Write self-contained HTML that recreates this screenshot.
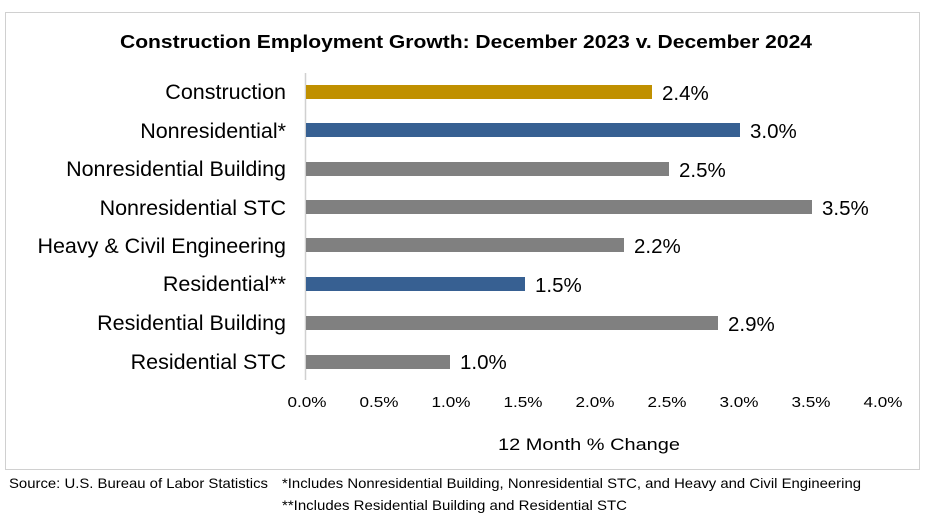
<!DOCTYPE html>
<html><head><meta charset="utf-8"><style>
html,body{margin:0;padding:0;background:#fff;}
svg{display:block;font-family:"Liberation Sans",Arial,sans-serif;}
</style></head><body>
<svg width="936" height="520" viewBox="0 0 936 520" xmlns="http://www.w3.org/2000/svg">
<rect x="5.5" y="12.5" width="914" height="457" fill="#fff" stroke="#d0d0d0" stroke-width="1"/>
<text x="466" y="48" text-anchor="middle" font-size="18" font-weight="bold" fill="#000" textLength="692" lengthAdjust="spacingAndGlyphs">Construction Employment Growth: December 2023 v. December 2024</text>
<line x1="305.5" y1="73" x2="305.5" y2="380" stroke="#d0d0d0" stroke-width="1.5"/>
<g font-size="21.5" fill="#000" text-anchor="end">
<text x="286" y="99">Construction</text>
<text x="286" y="138">Nonresidential*</text>
<text x="286" y="176">Nonresidential Building</text>
<text x="286" y="215">Nonresidential STC</text>
<text x="286" y="253">Heavy &amp; Civil Engineering</text>
<text x="286" y="291">Residential**</text>
<text x="286" y="330">Residential Building</text>
<text x="286" y="369">Residential STC</text>
</g>
<rect x="306" y="85" width="346" height="14" fill="#C09000"/>
<rect x="306" y="123" width="434" height="14" fill="#376092"/>
<rect x="306" y="162" width="363" height="14" fill="#808080"/>
<rect x="306" y="200" width="506" height="14" fill="#808080"/>
<rect x="306" y="238" width="318" height="14" fill="#808080"/>
<rect x="306" y="277" width="219" height="14" fill="#376092"/>
<rect x="306" y="316" width="412" height="14" fill="#808080"/>
<rect x="306" y="355" width="144" height="14" fill="#808080"/>
<g font-size="20.5" fill="#000">
<text x="662" y="100">2.4%</text>
<text x="750" y="138">3.0%</text>
<text x="679" y="177">2.5%</text>
<text x="822" y="215">3.5%</text>
<text x="634" y="253">2.2%</text>
<text x="535" y="292">1.5%</text>
<text x="728" y="331">2.9%</text>
<text x="460" y="369">1.0%</text>
</g>
<g font-size="15" fill="#000" text-anchor="middle">
<text x="307" y="407" textLength="39" lengthAdjust="spacingAndGlyphs">0.0%</text>
<text x="379" y="407" textLength="39" lengthAdjust="spacingAndGlyphs">0.5%</text>
<text x="451" y="407" textLength="39" lengthAdjust="spacingAndGlyphs">1.0%</text>
<text x="523" y="407" textLength="39" lengthAdjust="spacingAndGlyphs">1.5%</text>
<text x="595" y="407" textLength="39" lengthAdjust="spacingAndGlyphs">2.0%</text>
<text x="667" y="407" textLength="39" lengthAdjust="spacingAndGlyphs">2.5%</text>
<text x="739" y="407" textLength="39" lengthAdjust="spacingAndGlyphs">3.0%</text>
<text x="811" y="407" textLength="39" lengthAdjust="spacingAndGlyphs">3.5%</text>
<text x="883" y="407" textLength="39" lengthAdjust="spacingAndGlyphs">4.0%</text>
<text x="589" y="450" font-size="17" textLength="182" lengthAdjust="spacingAndGlyphs">12 Month % Change</text>
</g>
<g font-size="14" fill="#000">
<text x="9" y="488" textLength="259" lengthAdjust="spacingAndGlyphs">Source:  U.S. Bureau of Labor Statistics</text>
<text x="282" y="488" textLength="579" lengthAdjust="spacingAndGlyphs">*Includes Nonresidential Building, Nonresidential STC, and Heavy and Civil Engineering</text>
<text x="282" y="510" textLength="345" lengthAdjust="spacingAndGlyphs">**Includes Residential Building and Residential STC</text>
</g>
</svg>
</body></html>
